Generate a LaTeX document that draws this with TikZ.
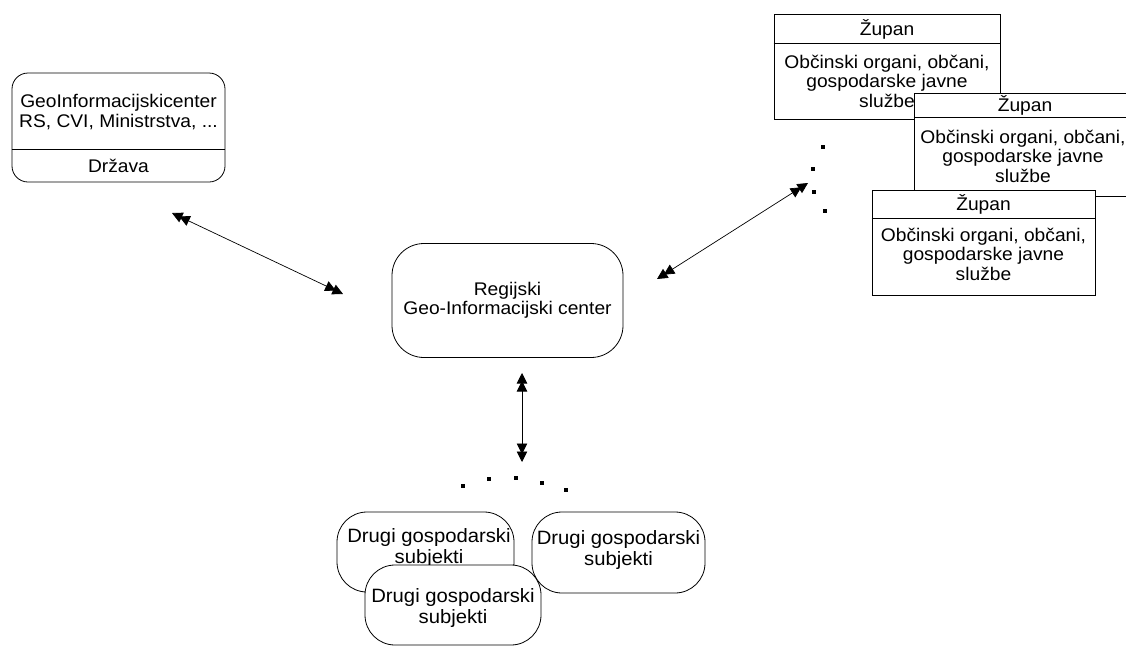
\documentclass[tikz,border=0pt]{standalone}
\usepackage{fontspec}
\setmainfont{Liberation Sans}[FakeStretch=1.05]
\usetikzlibrary{arrows.meta}
\begin{document}
\begin{tikzpicture}[x=1pt,y=-1pt,
  every node/.style={font=\fontsize{18.3}{19.5}\selectfont},
  frame/.style={draw, line width=0.8pt, fill=white, inner sep=0pt, align=center},
  txt/.style={align=center, inner sep=0pt},
  bigtxt/.style={txt, font=\fontsize{19.3}{20.5}\selectfont},
  rule/.style={line width=0.8pt},
  dtip/.tip={Triangle[length=10.5pt,width=10.5pt,sep=-2.5pt] Triangle[length=10.5pt,width=10.5pt]},
  link/.style={line width=0.7pt, dtip-dtip},
  dotmark/.style={fill, minimum size=4.5pt, inner sep=0pt}]
\useasboundingbox (0,0) rectangle (1126,648);

% State level
\node[frame, rounded corners=16pt, minimum width=213pt, minimum height=109pt] (drzava) at (118.5,127.5) {};
\coordinate (dzcut) at (0,149);
\draw[rule] (drzava.west |- dzcut) -- (drzava.east |- dzcut);
\node[txt] (drzavaTop) at (118.5,112) {GeoInformacijskicenter\\RS, CVI, Ministrstva, ...};
\node[txt] (drzavaName) at (118.5,166) {Država};

% Regional centre
\node[frame, rounded corners=32pt, minimum width=231pt, minimum height=114pt] (rgc) at (507.5,300.5) {Regijski\\Geo-Informacijski center};

% Municipalities
\node[frame, minimum width=226pt, minimum height=105pt] (obc1) at (887,66.5) {};
\coordinate (cut1) at (0,43);
\draw[rule] (obc1.west |- cut1) -- (obc1.east |- cut1);
\node[txt] (obc1t) at (887,29) {Župan};
\node[txt] (obc1b) at (887,81) {Občinski organi, občani,\\gospodarske javne\\službe};

\node[frame, minimum width=226pt, minimum height=103pt] (obc2) at (1027,144.5) {};
\coordinate (cut2) at (0,117);
\draw[rule] (obc2.west |- cut2) -- (obc2.east |- cut2);
\node[txt] (obc2t) at (1025,105) {Župan};
\node[txt] (obc2b) at (1023,156) {Občinski organi, občani,\\gospodarske javne\\službe};

\node[frame, minimum width=223pt, minimum height=105pt] (obc3) at (983.5,242.5) {};
\coordinate (cut3) at (0,218);
\draw[rule] (obc3.west |- cut3) -- (obc3.east |- cut3);
\node[txt] (obc3t) at (983.5,204) {Župan};
\node[txt] (obc3b) at (983.5,254) {Občinski organi, občani,\\gospodarske javne\\službe};

% Ellipsis marks
\node[dotmark] (r1) at (823,147) {};
\node[dotmark] (r2) at (813,169) {};
\node[dotmark] (r3) at (814,192) {};
\node[dotmark] (r4) at (825,211) {};
\node[dotmark] (b1) at (463,486) {};
\node[dotmark] (b2) at (489,479) {};
\node[dotmark] (b3) at (516,478) {};
\node[dotmark] (b4) at (542,483) {};
\node[dotmark] (b5) at (566,490) {};

% Companies
\node[frame, rounded corners=30pt, minimum width=177pt, minimum height=80pt] (sub1) at (425.5,552) {};
\node[bigtxt] (sub1t) at (429,548) {Drugi gospodarski\\subjekti};
\node[frame, rounded corners=30pt, minimum width=173pt, minimum height=81pt] (sub2) at (618.5,552.5) {};
\node[bigtxt] (sub2t) at (618.5,550) {Drugi gospodarski\\subjekti};
\node[frame, rounded corners=30pt, minimum width=176pt, minimum height=80pt] (sub3) at (453,605) {};
\node[bigtxt] (sub3t) at (453,608) {Drugi gospodarski\\subjekti};

% Links
\coordinate (a1) at (172,213);
\coordinate (a2) at (343,294);
\coordinate (e1) at (657,279);
\coordinate (e2) at (808,183);
\coordinate (v1) at (522,373);
\coordinate (v2) at (522,462);
\draw[link] (a1) -- (a2);
\draw[link] (e1) -- (e2);
\draw[link] (v1) -- (v2);
\end{tikzpicture}
\end{document}
